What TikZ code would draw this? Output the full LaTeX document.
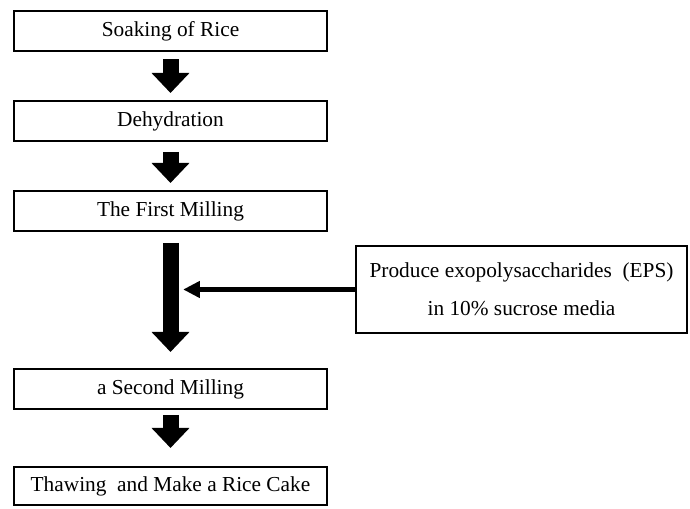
\documentclass[tikz,border=0pt]{standalone}
\usepackage{fontspec}
\setmainfont{Liberation Serif}
\usetikzlibrary{arrows.meta, positioning}

\begin{document}
\begin{tikzpicture}[
  x=0.75pt, y=-0.75pt,
  stage/.style={draw=black, rectangle, line width=1.5pt, minimum width=234.75pt,
                minimum height=30pt, align=center, inner sep=2pt,
                font=\fontsize{16}{28.5}\selectfont},
  flow/.style={line width=12pt, -{Triangle[length=15pt, width=27.5pt]}},
  feed/.style={line width=3.4pt, -{Triangle[length=12.5pt, width=12pt]}}
]
\useasboundingbox (0,0) rectangle (690,509);

\node[stage] (soak) at (170.5,31) {Soaking of Rice};
\node[stage, below=36pt of soak]    (dehyd) {Dehydration};
\node[stage, below=36pt of dehyd]   (mill1) {The First Milling};
\node[stage, below=102pt of mill1]  (mill2) {a Second Milling};
\node[stage, below=42pt of mill2, minimum height=28.5pt] (cake) {Thawing\ \ and Make a Rice Cake};

\node[stage, minimum width=248.25pt, minimum height=65.25pt] (eps) at (521.5,289.5)
  {Produce exopolysaccharides\ \ (EPS)\\in 10\% sucrose media};

\draw[flow, shorten <=5.5pt, shorten >=5.25pt]  (soak)  -- (dehyd);
\draw[flow, shorten <=7.5pt, shorten >=5.25pt]  (dehyd) -- (mill1);
\draw[flow, shorten <=8.25pt, shorten >=12pt]   (mill1) -- (mill2);
\draw[flow, shorten <=3.75pt, shorten >=13.5pt] (mill2) -- (cake);

\coordinate[right=9.5pt of mill1.south] (hit);
\draw[feed] (eps.west) -- (eps.west -| hit);
\end{tikzpicture}
\end{document}
